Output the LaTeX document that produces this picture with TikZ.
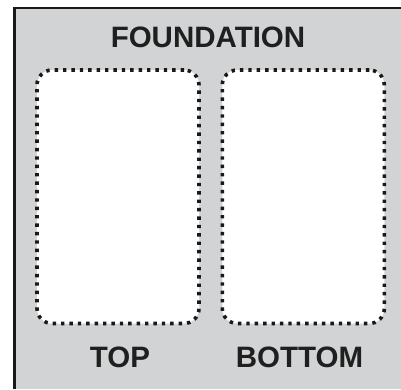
\documentclass[tikz,border=0pt]{standalone}
\usepackage{fontspec}
\setmainfont{Liberation Sans}
\usepackage{xcolor}
\usetikzlibrary{positioning}

\definecolor{paneGray}{RGB}{209,211,212}

\begin{document}
\begin{tikzpicture}[
        x=1pt, y=-1pt,
        font=\fontsize{29.5}{34}\selectfont\bfseries,
        slot/.style={rectangle, draw=black!90, fill=white, rounded corners=15pt, line width=3.6pt,
            dash pattern=on 3.4pt off 5pt, minimum width=162pt, minimum height=253.5pt,
            inner sep=0pt},
        lbl/.style={anchor=base, inner sep=0pt, text=black!88}
    ]
        \useasboundingbox (0,0) rectangle (401,389);
        \fill[paneGray] (14,7) rectangle (401,389);
        \draw[line width=2.8pt, black!90] (14.8,389) -- (14.8,8) -- (401,8);
        \node[slot] (top) at (118,196.75) {};
        \node[slot, right=19.7pt of top] (bottom) {};
        \node[lbl] (foundation) at (208,47) {FOUNDATION};
        \node[lbl] (toplbl) at (120,367) {TOP};
        \node[lbl] (bottomlbl) at (299.5,367) {BOTTOM};
    \end{tikzpicture}
\end{document}
